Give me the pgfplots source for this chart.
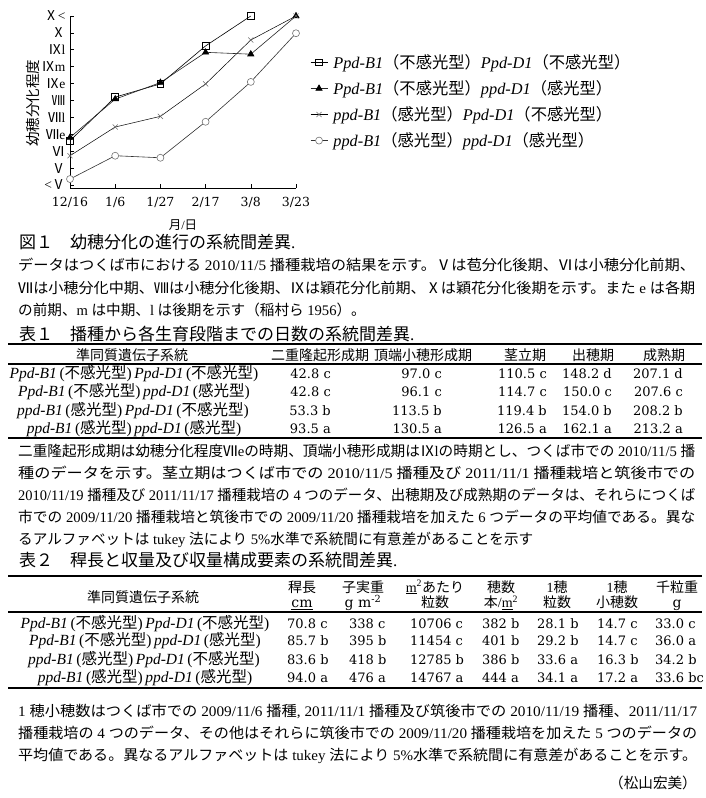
\documentclass[border=0pt]{standalone}
\usepackage{fontspec}
\usepackage{graphicx}
\usepackage{pgfplots}
\pgfplotsset{compat=1.18}
\setmainfont{Liberation Serif}
\newfontfamily\cjkfont{Noto Sans CJK JP}
\newfontfamily\numfont{DejaVu Serif}
\makeatletter
\def\setcjkrange#1#2{\count@=#1\relax
  \loop\XeTeXcharclass\count@=8\relax
  \ifnum\count@<#2\relax\advance\count@\@ne\repeat}
\setcjkrange{"2150}{"218F}
\setcjkrange{"2E80}{"9FFF}
\setcjkrange{"FF00}{"FFEF}
\makeatother
\XeTeXinterchartoks 0 8 = {\cjkfont}
\XeTeXinterchartoks 4095 8 = {\cjkfont}
\XeTeXinterchartoks 8 0 = {\rmfamily}
\XeTeXinterchartoks 8 4095 = {\rmfamily}
\XeTeXinterchartokenstate=1
\newcommand\fitline[2]{\resizebox{#1}{\height}{#2}}
\tikzset{
  T/.style={inner sep=0pt, anchor=base west, font=\fontsize{14.6}{16}\selectfont},
  H/.style={inner sep=0pt, anchor=base, font=\fontsize{14}{15}\selectfont},
  V/.style={inner sep=0pt, anchor=base east, font=\fontsize{13}{15}\numfont},
  W/.style={inner sep=0pt, anchor=base west, font=\fontsize{13}{15}\numfont},
  R/.style={inner sep=0pt, anchor=base, font=\fontsize{15.5}{16}\selectfont},
  C/.style={inner sep=0pt, anchor=base west, font=\fontsize{17}{19}\selectfont},
}
\begin{document}
\begin{tikzpicture}
\useasboundingbox (0pt,0pt) rectangle (705pt,-798pt);
\begin{axis}[
  at={(70pt,-188pt)}, anchor=south west,
  scale only axis, width=226pt, height=172pt,
  xmin=0, xmax=5, ymin=-0.18, ymax=10,
  axis lines*=left,
  axis line style={line width=0.7pt},
  xtick={0,1,2,3,4,5},
  xticklabels={12/16,1/6,1/27,2/17,3/8,3/23},
  ytick={0,1,2,3,4,5,6,7,8,9,10},
  yticklabels={\mbox{<Ⅴ},\mbox{Ⅴ},\mbox{Ⅵ},\mbox{Ⅶe},\mbox{Ⅶl},\mbox{Ⅷ},\mbox{Ⅸe},\mbox{Ⅸm},\mbox{Ⅸl},\mbox{Ⅹ},\mbox{Ⅹ<}},
  tick align=inside, major tick length=4pt,
  tick style={black, line width=0.6pt},
  xticklabel style={font=\fontsize{12.5}{13}\numfont, yshift=-6pt},
  yticklabel style={font=\fontsize{13.5}{13.5}\selectfont, xshift=-1pt},
  xlabel={月/日},
  xlabel style={font=\fontsize{12.5}{13}\selectfont, at={(axis description cs:0.5,-0.218)}, anchor=center},
  ylabel={幼穂分化程度},
  ylabel style={font=\fontsize{14.5}{15}\selectfont, at={(axis description cs:-0.164,0.494)}, anchor=center},
  clip=false,
  legend style={at={(1.062,0.785)}, anchor=north west, draw=none, fill=none,
    font=\fontsize{16.3}{17}\selectfont, row sep=7.6pt, column sep=4pt, inner sep=0pt,
    nodes={inner sep=1.5pt}},
  legend cell align=left,
]
\addplot[black, line width=0.6pt, mark=square, mark size=3.4pt, mark options={line width=0.8pt}]
  coordinates {(0,2.62) (1,5.2) (2,5.98) (3,8.23) (4,10)};
\addlegendentry{\textit{Ppd-B1}（不感光型）\textit{Ppd-D1}（不感光型）}
\addplot[black!85, line width=0.6pt, mark=triangle*, mark size=3.6pt, mark options={black}]
  coordinates {(0,2.81) (1,5.08) (2,6.06) (3,7.85) (4,7.74) (5,10)};
\addlegendentry{\textit{Ppd-B1}（不感光型）\textit{ppd-D1}（感光型）}
\addplot[black, line width=0.5pt, mark=x, mark size=3.6pt, mark options={black!60, line width=0.5pt}]
  coordinates {(0,1.73) (1,3.43) (2,4.06) (3,5.98) (4,8.58) (5,10)};
\addlegendentry{\textit{ppd-B1}（感光型）\textit{Ppd-D1}（不感光型）}
\addplot[black!80, line width=0.6pt, mark=*, mark size=3.5pt, mark options={draw=black!55, fill=white, line width=0.6pt}]
  coordinates {(0,0.35) (1,1.73) (2,1.61) (3,3.74) (4,6.1) (5,8.98)};
\addlegendentry{\textit{ppd-B1}（感光型）\textit{ppd-D1}（感光型）}
\end{axis}

% Figure caption and note
\node[C] at (19pt,-248pt) {図１　幼穂分化の進行の系統間差異.};
\node[T] at (18pt,-270pt) {\fitline{677pt}{データはつくば市における 2010/11/5 播種栽培の結果を示す。Ⅴは苞分化後期、Ⅵは小穂分化前期、}};
\node[T] at (18pt,-293pt) {\fitline{677pt}{Ⅶは小穂分化中期、Ⅷは小穂分化後期、Ⅸは穎花分化前期、Ⅹは穎花分化後期を示す。また e は各期}};
\node[T] at (18pt,-315.5pt) {の前期、m は中期、l は後期を示す（稲村ら 1956）。};

% Table 1
\node[C] at (19pt,-340.5pt) {表１　播種から各生育段階までの日数の系統間差異.};
\draw[line width=1.4pt] (8pt,-344pt) -- (702pt,-344pt);
\node[H] at (132pt,-360pt) {準同質遺伝子系統};
\node[H] at (320pt,-360pt) {二重隆起形成期};
\node[H] at (423pt,-360pt) {頂端小穂形成期};
\node[H] at (525pt,-360pt) {茎立期};
\node[H] at (593pt,-360pt) {出穂期};
\node[H] at (664pt,-360pt) {成熟期};
\draw[line width=1.5pt] (8pt,-364pt) -- (702pt,-364pt);
\node[R] at (134pt,-378pt) {\textit{Ppd-B1}\,(不感光型)\,\textit{Ppd-D1}\,(不感光型)};
\node[R] at (134pt,-396.5pt) {\textit{Ppd-B1}\,(不感光型)\,\textit{ppd-D1}\,(感光型)};
\node[R] at (133pt,-415pt) {\textit{ppd-B1}\,(感光型)\,\textit{Ppd-D1}\,(不感光型)};
\node[R] at (134pt,-433.5pt) {\textit{ppd-B1}\,(感光型)\,\textit{ppd-D1}\,(感光型)};
\node[V] at (331pt,-378pt) {42.8 c};
\node[V] at (331pt,-396.5pt) {42.8 c};
\node[V] at (331pt,-415pt) {53.3 b};
\node[V] at (331pt,-433.5pt) {93.5 a};
\node[V] at (442pt,-378pt) {97.0 c};
\node[V] at (442pt,-396.5pt) {96.1 c};
\node[V] at (442pt,-415pt) {113.5 b};
\node[V] at (442pt,-433.5pt) {130.5 a};
\node[V] at (547pt,-378pt) {110.5 c};
\node[V] at (547pt,-396.5pt) {114.7 c};
\node[V] at (547pt,-415pt) {119.4 b};
\node[V] at (547pt,-433.5pt) {126.5 a};
\node[V] at (612pt,-378pt) {148.2 d};
\node[V] at (612pt,-396.5pt) {150.0 c};
\node[V] at (612pt,-415pt) {154.0 b};
\node[V] at (612pt,-433.5pt) {162.1 a};
\node[V] at (683pt,-378pt) {207.1 d};
\node[V] at (683pt,-396.5pt) {207.6 c};
\node[V] at (683pt,-415pt) {208.2 b};
\node[V] at (683pt,-433.5pt) {213.2 a};
\draw[line width=1.2pt] (8pt,-438pt) -- (702pt,-438pt);

% Note for table 1
\node[T] at (18pt,-456pt) {\fitline{677pt}{二重隆起形成期は幼穂分化程度Ⅶeの時期、頂端小穂形成期はⅨlの時期とし、つくば市での 2010/11/5 播}};
\node[T] at (18pt,-478pt) {\fitline{677pt}{種のデータを示す。茎立期はつくば市での 2010/11/5 播種及び 2011/11/1 播種栽培と筑後市での}};
\node[T] at (18pt,-500pt) {\fitline{677pt}{2010/11/19 播種及び 2011/11/17 播種栽培の 4 つのデータ、出穂期及び成熟期のデータは、それらにつくば}};
\node[T] at (18pt,-522pt) {\fitline{677pt}{市での 2009/11/20 播種栽培と筑後市での 2009/11/20 播種栽培を加えた 6 つデータの平均値である。異な}};
\node[T] at (18pt,-544pt) {るアルファベットは tukey 法により 5\%水準で系統間に有意差があることを示す};

% Table 2
\node[C] at (19pt,-566.5pt) {表２　稈長と収量及び収量構成要素の系統間差異.};
\draw[line width=1.4pt] (8pt,-576pt) -- (702pt,-576pt);
\node[H] at (143pt,-602pt) {準同質遺伝子系統};
\node[H] at (302pt,-592pt) {稈長};
\node[H] at (302pt,-607.5pt) {\numfont\underline{cm}};
\node[H] at (363pt,-592pt) {子実重};
\node[H] at (363pt,-607.5pt) {\numfont\underline{g m}\textsuperscript{-2}};
\node[H] at (435pt,-592pt) {\underline{m}\textsuperscript{2}あたり};
\node[H] at (435pt,-607.5pt) {粒数};
\node[H] at (501pt,-592pt) {穂数};
\node[H] at (501pt,-607.5pt) {本/\underline{m}\textsuperscript{2}};
\node[H] at (557pt,-592pt) {1穂};
\node[H] at (557pt,-607.5pt) {粒数};
\node[H] at (617pt,-592pt) {1穂};
\node[H] at (617pt,-607.5pt) {小穂数};
\node[H] at (677pt,-592pt) {千粒重};
\node[H] at (677pt,-607.5pt) {\numfont\underline{g}};
\draw[line width=1.5pt] (8pt,-612pt) -- (702pt,-612pt);
\node[R] at (145pt,-628pt) {\textit{Ppd-B1}\,(不感光型)\,\textit{Ppd-D1}\,(不感光型)};
\node[R] at (145pt,-645pt) {\textit{Ppd-B1}\,(不感光型)\,\textit{ppd-D1}\,(感光型)};
\node[R] at (144pt,-664pt) {\textit{ppd-B1}\,(感光型)\,\textit{Ppd-D1}\,(不感光型)};
\node[R] at (145pt,-682.5pt) {\textit{ppd-B1}\,(感光型)\,\textit{ppd-D1}\,(感光型)};
\node[W] at (287pt,-628pt) {70.8 c};
\node[W] at (287pt,-645pt) {85.7 b};
\node[W] at (287pt,-664pt) {83.6 b};
\node[W] at (287pt,-682.5pt) {94.0 a};
\node[W] at (349pt,-628pt) {338 c};
\node[W] at (349pt,-645pt) {395 b};
\node[W] at (349pt,-664pt) {418 b};
\node[W] at (349pt,-682.5pt) {476 a};
\node[W] at (410pt,-628pt) {10706 c};
\node[W] at (410pt,-645pt) {11454 c};
\node[W] at (410pt,-664pt) {12785 b};
\node[W] at (410pt,-682.5pt) {14767 a};
\node[W] at (482pt,-628pt) {382 b};
\node[W] at (482pt,-645pt) {401 b};
\node[W] at (482pt,-664pt) {386 b};
\node[W] at (482pt,-682.5pt) {444 a};
\node[W] at (537pt,-628pt) {28.1 b};
\node[W] at (537pt,-645pt) {29.2 b};
\node[W] at (537pt,-664pt) {33.6 a};
\node[W] at (537pt,-682.5pt) {34.1 a};
\node[W] at (597pt,-628pt) {14.7 c};
\node[W] at (597pt,-645pt) {14.7 c};
\node[W] at (597pt,-664pt) {16.3 b};
\node[W] at (597pt,-682.5pt) {17.2 a};
\node[W] at (655pt,-628pt) {33.0 c};
\node[W] at (655pt,-645pt) {36.0 a};
\node[W] at (655pt,-664pt) {34.2 b};
\node[W] at (655pt,-682.5pt) {33.6 bc};
\draw[line width=1.2pt] (8pt,-688pt) -- (702pt,-688pt);

% Note for table 2
\node[T] at (18pt,-716pt) {\fitline{679pt}{1 穂小穂数はつくば市での 2009/11/6 播種, 2011/11/1 播種及び筑後市での 2010/11/19 播種、2011/11/17}};
\node[T] at (18pt,-738.5pt) {\fitline{679pt}{播種栽培の 4 つのデータ、その他はそれらに筑後市での 2009/11/20 播種栽培を加えた 5 つのデータの}};
\node[T] at (18pt,-760.5pt) {\fitline{679pt}{平均値である。異なるアルファベットは tukey 法により 5\%水準で系統間に有意差があることを示す。}};
\node[T, anchor=base east] at (697pt,-788.5pt) {（松山宏美）};
\end{tikzpicture}
\end{document}
